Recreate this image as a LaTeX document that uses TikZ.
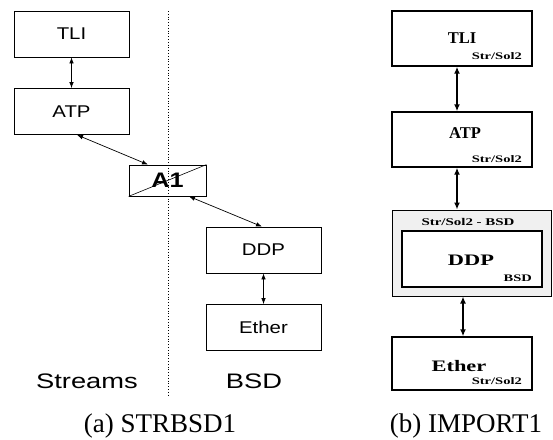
\documentclass[tikz,border=0pt]{standalone}
\usepackage{fontspec}
\setmainfont{Liberation Serif}
\newfontfamily\lsA[FakeStretch=1.2]{Liberation Sans}
\newfontfamily\lsB[FakeStretch=1.3]{Liberation Sans}
\newfontfamily\rbW[FakeStretch=1.4]{Liberation Serif}
\newfontfamily\rbS[FakeStretch=1.45]{Liberation Serif}
\usetikzlibrary{arrows.meta}
\tikzset{
  lbox/.style={draw,line width=0.8pt,minimum width=115pt,minimum height=46pt,inner sep=0pt,
    font=\lsA\fontsize{17pt}{17pt}\selectfont},
  abox/.style={draw,line width=0.8pt,minimum width=77pt,minimum height=31pt,inner sep=0pt,
    font=\lsA\bfseries\fontsize{21pt}{21pt}\selectfont},
  side/.style={inner sep=0pt,anchor=base,font=\lsB\fontsize{21pt}{21pt}\selectfont},
  rbox/.style={draw,line width=1.4pt,minimum width=140pt,minimum height=55pt,inner sep=0pt},
  rmain/.style={inner sep=0pt,anchor=base,font=\bfseries\fontsize{16.5pt}{16.5pt}\selectfont},
  rwide/.style={inner sep=0pt,anchor=base,font=\rbW\bfseries\fontsize{16pt}{16pt}\selectfont},
  rsub/.style={inner sep=0pt,anchor=base east,font=\rbS\bfseries\fontsize{10pt}{10pt}\selectfont},
  rhead/.style={inner sep=0pt,anchor=base,font=\rbS\bfseries\fontsize{10.3pt}{10.3pt}\selectfont},
  capt/.style={inner sep=0pt,anchor=base,font=\fontsize{27pt}{27pt}\selectfont},
  larr/.style={line width=0.7pt,{Latex[length=6pt,width=4.5pt]}-{Latex[length=6pt,width=4.5pt]}},
  rarr/.style={line width=1.5pt,{Latex[length=7pt,width=6pt]}-{Latex[length=7pt,width=6pt]}},
}
\begin{document}
\begin{tikzpicture}[x=1pt,y=-1pt]
\useasboundingbox (0,0) rectangle (553,439);
% ---------- left panel ----------
\node[lbox] (tli) at (71.5,34) {TLI};
\node[lbox] (atp) at (71.5,111.5) {ATP};
\node[abox] (a1) at (167.5,180.5) {A1};
\node[lbox] (ddp) at (263.5,250) {DDP};
\node[lbox] (eth) at (263.5,327.5) {Ether};
\draw[line width=0.6pt] (a1.south west) -- (a1.north east);
\coordinate (dtop) at (168,11);
\coordinate (dbot) at (168,395);
\draw[dotted,line width=0.8pt] (dtop) -- (dbot);
\draw[larr] (tli.south) -- (atp.north);
\draw[larr] ([xshift=5.5pt]atp.south) -- ([xshift=-19.5pt]a1.north);
\draw[larr] ([xshift=21.5pt]a1.south) -- ([xshift=-1.5pt]ddp.north);
\draw[larr] (ddp.south) -- (eth.north);
\node[side] (streams) at (87,388) {Streams};
\node[side] (bsdl) at (254,388) {BSD};
\node[capt] (capa) at (160,432) {(a) STRBSD1};
% ---------- right panel ----------
\node[rbox] (rtli) at (462,38.5) {};
\node[rmain] (rtlit) at (462,43.5) {TLI};
\node[rsub] (rtlis) at (522,59.5) {Str/Sol2};
\node[rbox] (ratp) at (462,139.5) {};
\node[rmain] (ratpt) at (465,138.5) {ATP};
\node[rsub] (ratps) at (522,162.5) {Str/Sol2};
\node[draw,line width=1pt,fill=black!6,minimum width=159pt,minimum height=86pt,inner sep=0pt] (outer) at (471.5,253) {};
\node[rhead] (outh) at (468,225) {Str/Sol2 - BSD};
\node[rbox,fill=white,minimum height=56pt] (rddp) at (472,259) {};
\node[rwide] (rddpt) at (471,265.5) {DDP};
\node[rsub] (rddps) at (532,281) {BSD};
\node[rbox,minimum height=53pt] (reth) at (462,363.5) {};
\node[rwide] (retht) at (459,371) {Ether};
\node[rsub] (reths) at (522,384.5) {Str/Sol2};
\draw[rarr] ([xshift=-5pt]rtli.south) -- ([xshift=-5pt]ratp.north);
\draw[rarr] ([xshift=-5pt]ratp.south) -- ([xshift=-14.5pt]outer.north);
\draw[rarr] ([xshift=-8.5pt]outer.south) -- ([xshift=1pt]reth.north);
\node[capt] (capb) at (466,432) {(b) IMPORT1};
\end{tikzpicture}
\end{document}
